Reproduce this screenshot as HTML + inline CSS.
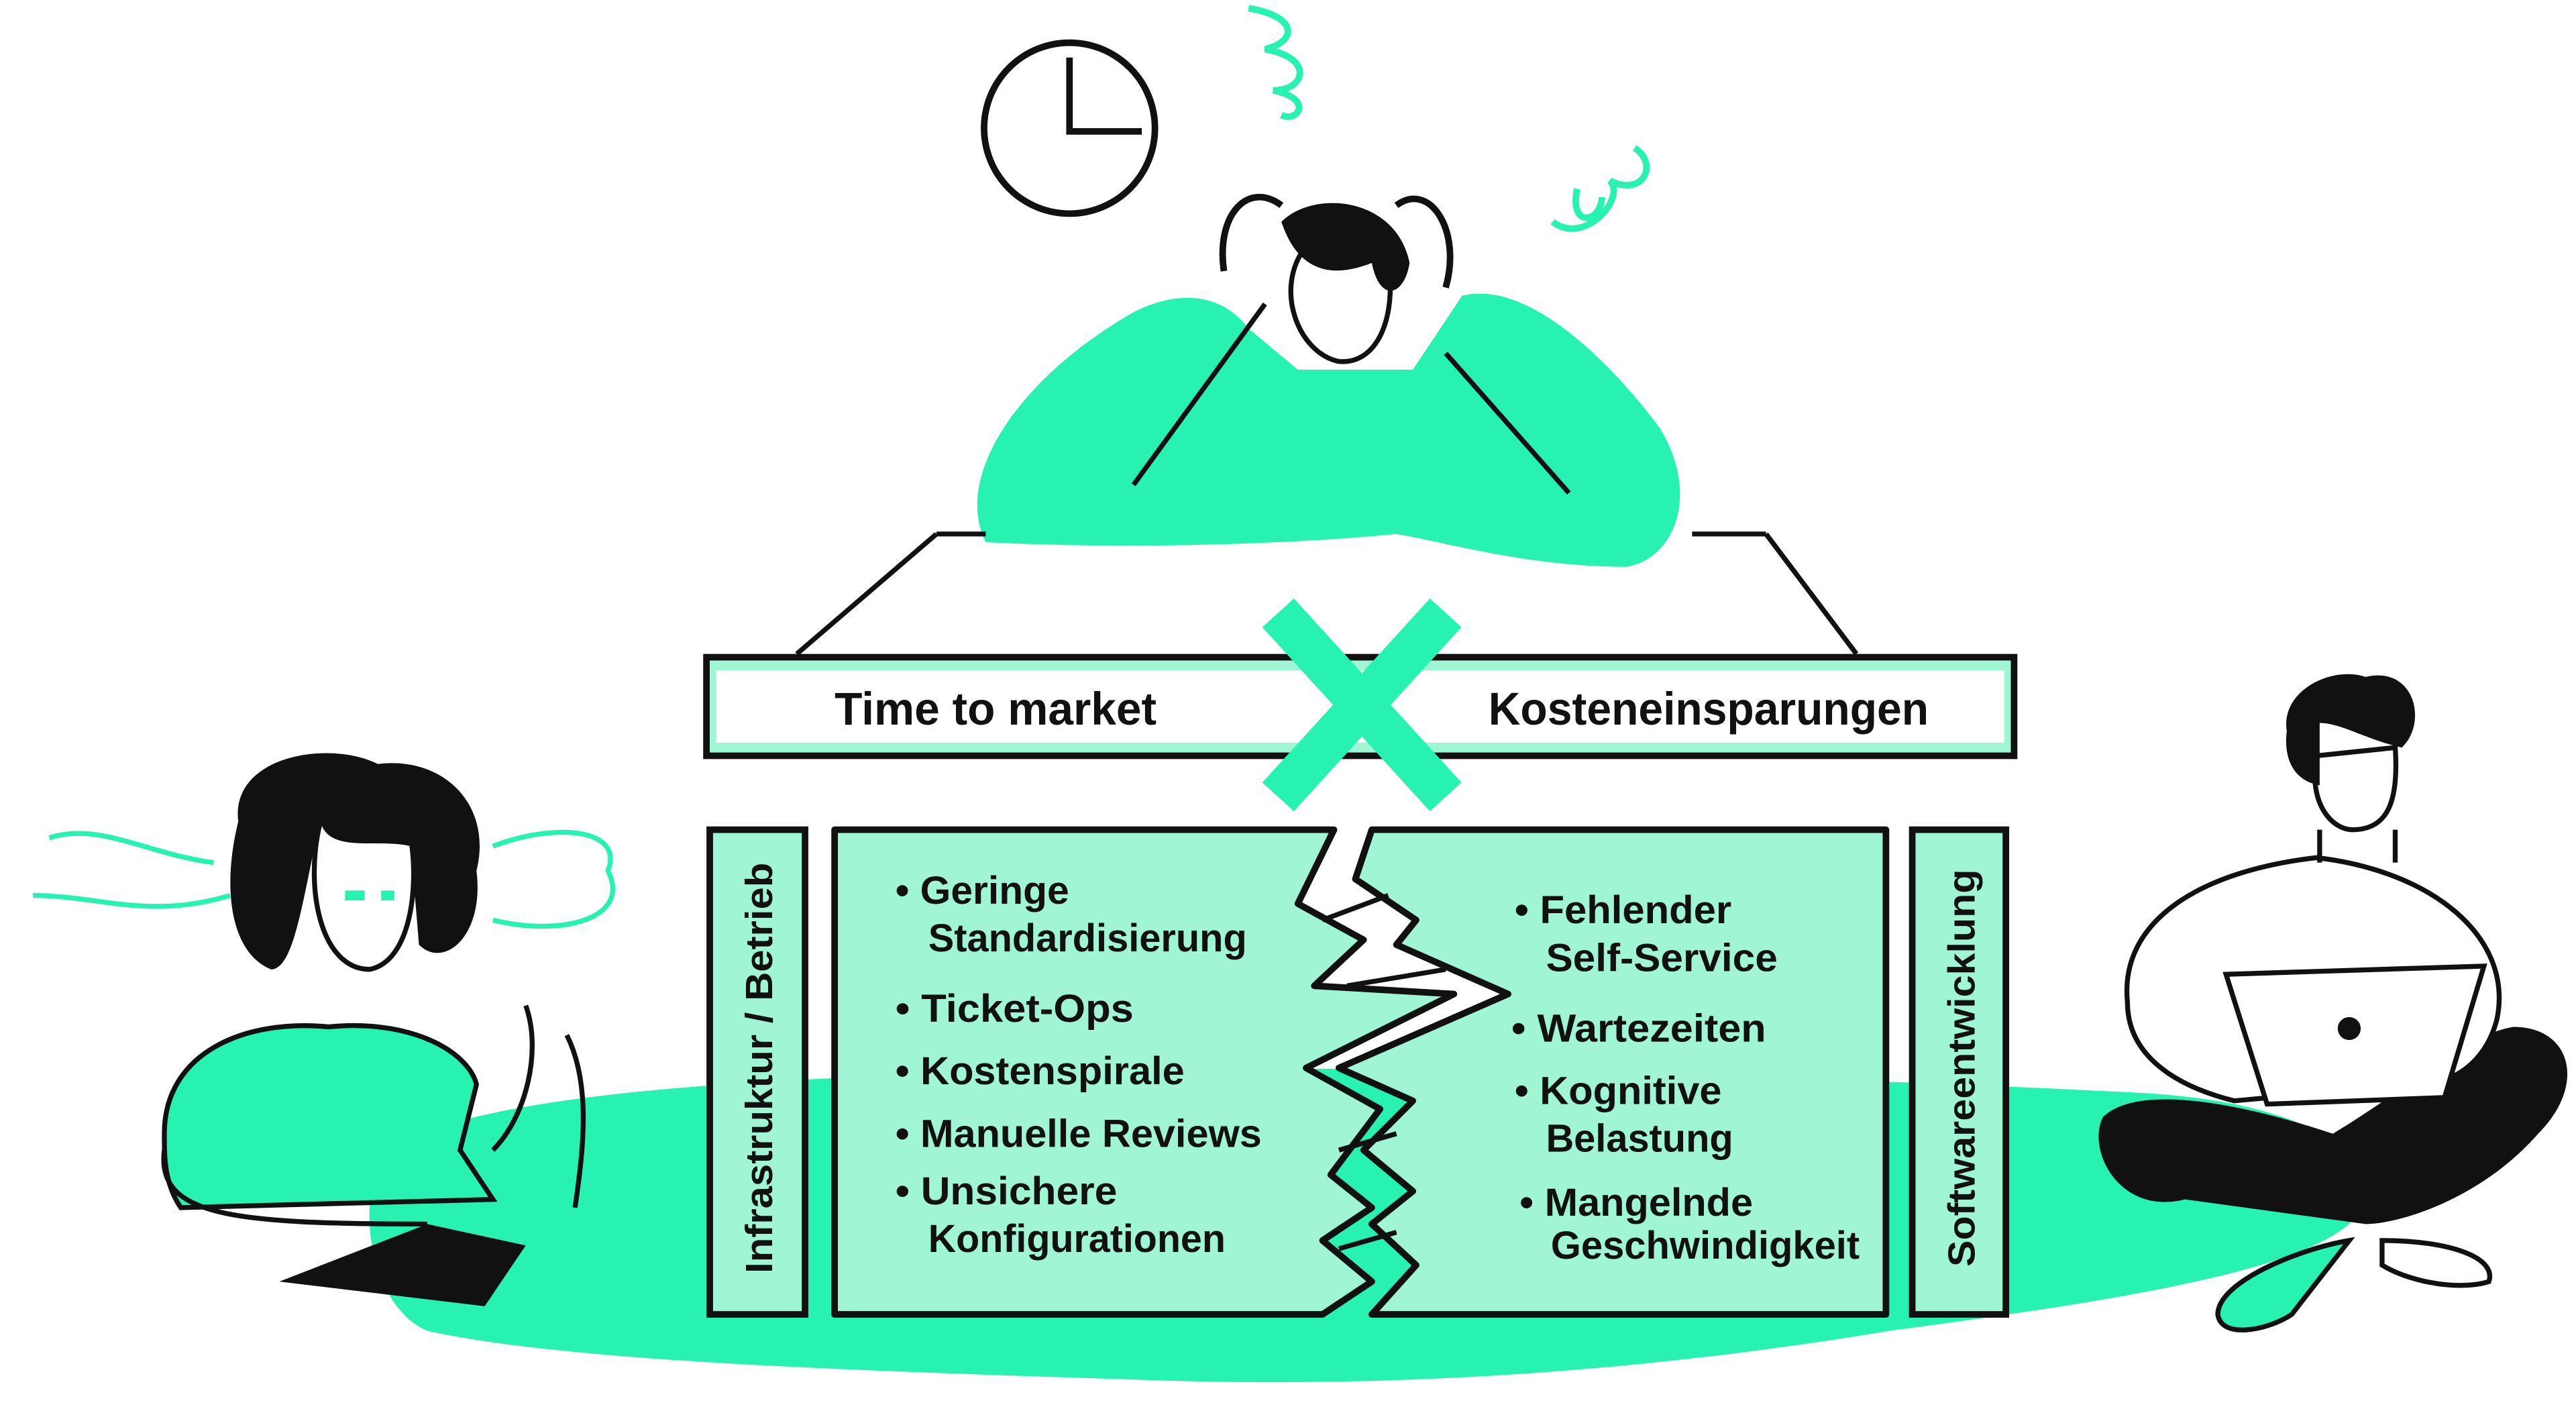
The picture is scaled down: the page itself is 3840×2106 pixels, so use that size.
<!DOCTYPE html>
<html><head><meta charset="utf-8"><style>
html,body{margin:0;padding:0;background:#fff;width:3840px;height:2106px;overflow:hidden}
svg{display:block}
.t{font-family:"Liberation Sans Narrow","Liberation Sans",sans-serif;font-weight:bold;fill:#111}
.r{font-family:"Liberation Sans",sans-serif;font-weight:bold;fill:#111}
</style></head><body>
<svg width="3840" height="2106" viewBox="0 0 1568 860" xmlns="http://www.w3.org/2000/svg">
<path d="M235,700 C300,660 500,655 700,650 C900,650 1100,655 1300,665 C1400,670 1445,700 1440,730 C1430,770 1300,790 1150,810 C1000,835 850,845 700,840 C550,835 350,830 260,810 C225,795 215,730 235,700 Z" fill="#27f2b1"/>
<circle cx="651" cy="78" r="52" fill="#fff" stroke="#111" stroke-width="4"/>
<path d="M651,35 V80 H695" fill="none" stroke="#111" stroke-width="4"/>
<path d="M760,5 C790,10 790,25 770,30 C800,35 795,55 775,55 C800,60 790,75 780,70" fill="none" stroke="#27f2b1" stroke-width="4"/>
<path d="M945,135 C965,150 990,120 980,110 C1000,120 1010,100 995,90 M960,115 C955,140 975,135 975,120" fill="none" stroke="#27f2b1" stroke-width="4"/>
<path d="M600,330 C580,290 620,230 690,190 C720,175 745,180 760,200 L790,225 L860,225 L890,180 C930,170 980,220 1010,260 C1035,300 1020,340 990,345 C930,345 880,330 850,325 C800,330 700,335 600,330 Z" fill="#27f2b1"/>
<path d="M690,295 L770,185 M955,300 L880,215" stroke="#111" stroke-width="3" fill="none"/>
<path d="M795,150 C775,175 790,215 815,220 C840,222 850,190 845,160 Z" fill="#fff" stroke="#111" stroke-width="3"/>
<path d="M780,135 C800,115 850,120 858,160 C855,180 840,185 835,160 C810,170 790,165 780,135 Z" fill="#111"/>
<path d="M745,165 C740,130 760,110 780,125 M880,175 C890,140 870,110 850,125" stroke="#111" stroke-width="4" fill="none"/>
<path d="M570,325 H600 M1030,325 H1075 M570,325 L485,398 M1075,325 L1130,398" stroke="#111" stroke-width="3" fill="none"/>
<rect x="430" y="400" width="796" height="60" fill="#9ff5d4" stroke="#111" stroke-width="4"/>
<rect x="436" y="408" width="784" height="44" fill="#fff"/>
<path d="M778,373 L880,485 M880,373 L778,485" stroke="#27f2b1" stroke-width="26"/>
<text class="t" x="508" y="441" font-size="28" textLength="196" lengthAdjust="spacingAndGlyphs">Time to market</text>
<text class="t" x="906" y="441" font-size="28" textLength="268" lengthAdjust="spacingAndGlyphs">Kosteneinsparungen</text>
<rect x="432" y="505" width="58" height="295" fill="#9ff5d4" stroke="#111" stroke-width="4"/>
<text class="r" transform="translate(470,650) rotate(-90)" font-size="23" text-anchor="middle" textLength="250" lengthAdjust="spacingAndGlyphs">Infrastruktur / Betrieb</text>
<rect x="1164" y="505" width="57" height="295" fill="#9ff5d4" stroke="#111" stroke-width="4"/>
<text class="r" transform="translate(1202,650) rotate(-90)" font-size="23" text-anchor="middle" textLength="242" lengthAdjust="spacingAndGlyphs">Softwareentwicklung</text>
<path d="M508,505 L812,505 L790,550 L830,572 L800,600 L885,605 L795,650 L840,675 L810,715 L835,735 L805,755 L835,780 L805,800 L508,800 Z" fill="#9ff5d4" stroke="#111" stroke-width="4" stroke-linejoin="round"/>
<path d="M835,505 L1148,505 L1148,800 L835,800 L862,770 L835,745 L860,725 L830,700 L860,670 L815,650 L918,605 L850,575 L862,560 L825,535 Z" fill="#9ff5d4" stroke="#111" stroke-width="4" stroke-linejoin="round"/>
<path d="M805,560 L845,545 M820,600 L880,590 M815,700 L850,690 M815,760 L850,750" stroke="#111" stroke-width="3"/>
<g class="t" font-size="24" lengthAdjust="spacingAndGlyphs">
<text x="545" y="550">• <tspan>Geringe</tspan></text>
<text x="565" y="579" textLength="194" lengthAdjust="spacingAndGlyphs">Standardisierung</text>
<text x="545" y="622" textLength="145" lengthAdjust="spacingAndGlyphs">• Ticket-Ops</text>
<text x="545" y="660" textLength="176" lengthAdjust="spacingAndGlyphs">• Kostenspirale</text>
<text x="545" y="698" textLength="223" lengthAdjust="spacingAndGlyphs">• Manuelle Reviews</text>
<text x="545" y="733" textLength="135" lengthAdjust="spacingAndGlyphs">• Unsichere</text>
<text x="565" y="762" textLength="181" lengthAdjust="spacingAndGlyphs">Konfigurationen</text>
<text x="922" y="562" textLength="132" lengthAdjust="spacingAndGlyphs">• Fehlender</text>
<text x="941" y="591" textLength="141" lengthAdjust="spacingAndGlyphs">Self-Service</text>
<text x="920" y="634" textLength="155" lengthAdjust="spacingAndGlyphs">• Wartezeiten</text>
<text x="922" y="672" textLength="126" lengthAdjust="spacingAndGlyphs">• Kognitive</text>
<text x="941" y="701" textLength="114" lengthAdjust="spacingAndGlyphs">Belastung</text>
<text x="925" y="740" textLength="142" lengthAdjust="spacingAndGlyphs">• Mangelnde</text>
<text x="944" y="766" textLength="188" lengthAdjust="spacingAndGlyphs">Geschwindigkeit</text>
</g>
<path d="M30,510 C60,500 90,520 130,525 M20,545 C60,545 90,560 140,545 M300,515 C340,500 380,505 370,530 C385,560 340,570 300,560" fill="none" stroke="#27f2b1" stroke-width="3"/>
<path d="M100,690 C100,640 150,620 200,625 C250,620 285,640 290,660 L280,700 L300,730 L110,735 C100,720 100,705 100,690 Z" fill="#27f2b1" stroke="#111" stroke-width="3"/>
<path d="M100,700 C95,740 140,745 260,745" fill="none" stroke="#111" stroke-width="3"/>
<path d="M195,500 C185,540 195,590 225,590 C250,585 255,540 250,510 Z" fill="#fff" stroke="#111" stroke-width="3"/>
<path d="M145,500 C140,460 200,450 230,465 C270,460 300,490 290,530 C295,570 270,590 255,575 L250,515 C230,510 200,520 195,500 C185,540 180,590 165,590 C140,580 135,540 145,500 Z" fill="#111"/>
<path d="M210,545 h12 M232,545 h8" stroke="#27f2b1" stroke-width="6"/>
<path d="M170,780 L295,795 L320,758 L260,745 Z" fill="#111"/>
<path d="M320,612 C330,640 320,680 300,700 M345,630 C360,660 355,700 350,735" fill="none" stroke="#111" stroke-width="3"/>
<path d="M1330,730 C1290,740 1270,700 1280,680 C1300,660 1360,670 1420,690 C1470,660 1500,630 1530,625 C1565,625 1575,660 1545,690 C1510,730 1460,745 1440,745 Z" fill="#111"/>
<path d="M1295,610 C1290,560 1340,530 1410,522 C1480,530 1530,570 1520,620 C1515,640 1500,660 1470,660 L1360,670 C1320,660 1295,640 1295,610 Z" fill="#fff" stroke="#111" stroke-width="3"/>
<path d="M1355,593 L1512,588 L1488,668 L1380,672 Z" fill="#fff" stroke="#111" stroke-width="3"/>
<circle cx="1430" cy="626" r="7" fill="#111"/>
<path d="M1410,460 C1405,490 1420,505 1432,505 C1455,505 1460,485 1458,455 Z" fill="#fff" stroke="#111" stroke-width="3"/>
<path d="M1392,445 C1388,420 1420,405 1440,412 C1470,405 1478,440 1462,455 C1440,450 1425,440 1412,440 L1412,478 C1395,475 1390,460 1392,445 Z" fill="#111"/>
<path d="M1412,505 V525 M1458,505 V525" stroke="#111" stroke-width="3"/>
<path d="M1350,800 C1350,780 1400,760 1430,755 L1395,800 C1380,810 1352,815 1350,800 Z" fill="#27f2b1" stroke="#111" stroke-width="3"/>
<path d="M1450,755 C1490,755 1520,765 1515,780 C1500,785 1470,782 1450,770 Z" fill="#fff" stroke="#111" stroke-width="3"/>
</svg>
</body></html>
